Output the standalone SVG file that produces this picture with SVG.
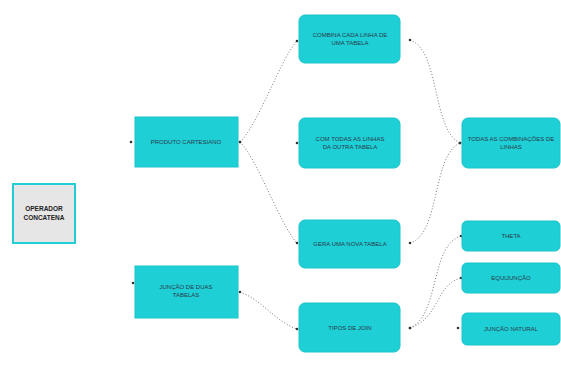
<svg xmlns="http://www.w3.org/2000/svg" width="561" height="367" viewBox="0 0 561 367">
<defs>
<marker id="dot" viewBox="0 0 4 4" refX="2" refY="2" markerWidth="4" markerHeight="4" markerUnits="userSpaceOnUse"><circle cx="2" cy="2" r="1.3" fill="#333"/></marker>
<style>
.box{fill:#1ecfd6;stroke:#1ac4ca;stroke-width:1}
.lbl{font-family:"Liberation Sans",Arial,sans-serif;font-size:6px;fill:#2a3a4a;text-anchor:middle}
.bold{font-weight:bold;font-size:6.5px;fill:#222}
.con{fill:none;stroke:#777;stroke-width:1;stroke-dasharray:1 2;marker-start:url(#dot);marker-end:url(#dot)}
.pt{fill:#333}
</style>
</defs>
<rect width="561" height="367" fill="#fff"/>
<g id="connectors">
<path class="con" d="M240,142 C258,125 280,60 297,41"/>
<path class="con" d="M240,142 C258,160 280,225 297,243"/>
<path class="con" d="M410,40 C440,50 432,130 460,143"/>
<path class="con" d="M410,243 C440,235 432,155 460,143"/>
<path class="con" d="M410,328 C440,315 430,245 461,236"/>
<path class="con" d="M410,328 C440,318 435,285 461,278"/>
<path class="con" d="M240,292 C262,300 276,322 297,329"/>
<circle class="pt" cx="131" cy="142" r="1.3"/>
<circle class="pt" cx="133" cy="283" r="1.3"/>
<circle class="pt" cx="297" cy="143" r="1.3"/>
<circle class="pt" cx="458" cy="328" r="1.3"/>
</g>
<g id="nodeA">
<rect x="13" y="184" width="62" height="59" fill="#e6e6e6" stroke="#1ecfd6" stroke-width="2"/>
<text class="lbl bold" x="44" y="211">OPERADOR</text>
<text class="lbl bold" x="44" y="220">CONCATENA</text>
</g>
<g id="nodeB">
<rect class="box" x="135" y="117" width="103" height="50"/>
<text class="lbl" x="186" y="144">PRODUTO CARTESIANO</text>
</g>
<g id="nodeC">
<rect class="box" x="135" y="266" width="103" height="52"/>
<text class="lbl" x="186" y="289">JUNÇÃO DE DUAS</text>
<text class="lbl" x="186" y="297">TABELAS</text>
</g>
<g id="nodeD">
<rect class="box" x="299" y="15" width="101" height="48" rx="6"/>
<text class="lbl" x="350" y="37">COMBINA CADA LINHA DE</text>
<text class="lbl" x="350" y="45">UMA TABELA</text>
</g>
<g id="nodeE">
<rect class="box" x="299" y="118" width="101" height="50" rx="6"/>
<text class="lbl" x="350" y="141">COM TODAS AS LINHAS</text>
<text class="lbl" x="350" y="149">DA OUTRA TABELA</text>
</g>
<g id="nodeF">
<rect class="box" x="299" y="220" width="101" height="48" rx="6"/>
<text class="lbl" x="350" y="246">GERA UMA NOVA TABELA</text>
</g>
<g id="nodeG">
<rect class="box" x="299" y="303" width="101" height="49" rx="6"/>
<text class="lbl" x="350" y="330">TIPOS DE JOIN</text>
</g>
<g id="nodeH">
<rect class="box" x="462" y="118" width="98" height="50" rx="6"/>
<text class="lbl" x="511" y="141">TODAS AS COMBINAÇÕES DE</text>
<text class="lbl" x="511" y="149">LINHAS</text>
</g>
<g id="nodeI">
<rect class="box" x="462" y="221" width="98" height="30" rx="5"/>
<text class="lbl" x="511" y="238">THETA</text>
</g>
<g id="nodeJ">
<rect class="box" x="462" y="263" width="98" height="30" rx="5"/>
<text class="lbl" x="511" y="280">EQUIJUNÇÃO</text>
</g>
<g id="nodeK">
<rect class="box" x="462" y="313" width="98" height="32" rx="5"/>
<text class="lbl" x="511" y="331">JUNÇÃO NATURAL</text>
</g>
</svg>
